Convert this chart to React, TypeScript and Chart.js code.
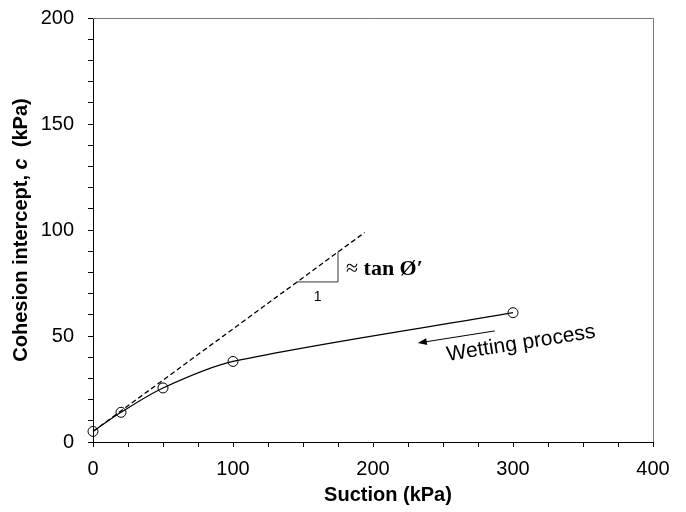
import React, { useEffect, useRef } from "react";
import { Chart, registerables } from "chart.js";

Chart.register(...registerables);

// Measured data
const suction = [0, 20, 50, 100, 300];
const cohesion = [5, 14, 25.5, 38, 61];

// Dashed tangent line (slope ≈ tan φ')
const tangentX = [0, 194];
const tangentY = [5, 98.8];

// Slope triangle
const triangleX = [145.5, 175, 175];
const triangleY = [75.5, 75.5, 89.8];

// Axis tick settings
const xMajor = 100;
const yMajor = 50;

const FONT = "'Liberation Sans', Arial, sans-serif";
const SERIF = "'Liberation Serif', 'DejaVu Serif', serif";

const annotations = {
  id: "annotations",
  afterDraw(chart: any) {
    const { ctx, chartArea: a, scales } = chart;
    const sx = scales.x;
    const sy = scales.y;
    const px = (v: number) => sx.getPixelForValue(v);
    const py = (v: number) => sy.getPixelForValue(v);
    ctx.save();

    // top / right frame
    ctx.strokeStyle = "#7a7a7a";
    ctx.lineWidth = 1;
    ctx.beginPath();
    ctx.moveTo(Math.round(a.left), Math.round(a.top) + 0.5);
    ctx.lineTo(Math.round(a.right) + 0.5, Math.round(a.top) + 0.5);
    ctx.lineTo(Math.round(a.right) + 0.5, Math.round(a.bottom));
    ctx.stroke();

    // Arrow for wetting process
    const ax1 = px(287), ay1 = py(52.4);
    const ax2 = px(232), ay2 = py(46.7);
    ctx.strokeStyle = "#000";
    ctx.fillStyle = "#000";
    ctx.lineWidth = 1;
    ctx.beginPath();
    ctx.moveTo(ax1, ay1);
    ctx.lineTo(ax2 + 6, ay2 - 0.9);
    ctx.stroke();
    const ang = Math.atan2(ay2 - ay1, ax2 - ax1);
    const L = 9, W = 3.5;
    ctx.beginPath();
    ctx.moveTo(ax2, ay2);
    ctx.lineTo(ax2 - L * Math.cos(ang) + W * Math.sin(ang), ay2 - L * Math.sin(ang) - W * Math.cos(ang));
    ctx.lineTo(ax2 - L * Math.cos(ang) - W * Math.sin(ang), ay2 - L * Math.sin(ang) + W * Math.cos(ang));
    ctx.closePath();
    ctx.fill();

    // Wetting process text
    ctx.save();
    ctx.translate(px(305.7), py(46.5));
    ctx.rotate((-9 * Math.PI) / 180);
    ctx.font = `21px ${FONT}`;
    ctx.textAlign = "center";
    ctx.textBaseline = "middle";
    ctx.fillText("Wetting process", 0, 0);
    ctx.restore();

    // "1" label
    ctx.font = `14px ${FONT}`;
    ctx.textAlign = "center";
    ctx.textBaseline = "middle";
    ctx.fillText("1", px(160.5), py(68.4));

    // ≈ tan Ø′
    ctx.textAlign = "left";
    ctx.textBaseline = "alphabetic";
    let tx = px(180.7);
    const ty = py(78.8);
    ctx.font = `22px ${SERIF}`;
    ctx.fillText("≈ ", tx, ty);
    tx += ctx.measureText("≈ ").width;
    ctx.font = `bold 22px ${SERIF}`;
    ctx.fillText("tan Ø′", tx, ty);

    // Axis titles
    ctx.fillStyle = "#000";
    ctx.font = `bold 20px ${FONT}`;
    ctx.textAlign = "center";
    ctx.textBaseline = "middle";
    ctx.fillText("Suction (kPa)", 388, 495);

    ctx.save();
    ctx.translate(21, (a.top + a.bottom) / 2);
    ctx.rotate(-Math.PI / 2);
    const p1 = "Cohesion intercept, ";
    const p2 = "c";
    const p3 = "  (kPa)";
    ctx.font = `bold 20px ${FONT}`;
    const w1 = ctx.measureText(p1).width;
    const w3 = ctx.measureText(p3).width;
    ctx.font = `italic bold 20px ${FONT}`;
    const w2 = ctx.measureText(p2).width;
    let cx = -(w1 + w2 + w3) / 2;
    ctx.textAlign = "left";
    ctx.font = `bold 20px ${FONT}`;
    ctx.fillText(p1, cx, 0);
    cx += w1;
    ctx.font = `italic bold 20px ${FONT}`;
    ctx.fillText(p2, cx, 0);
    cx += w2;
    ctx.font = `bold 20px ${FONT}`;
    ctx.fillText(p3, cx, 0);
    ctx.restore();

    ctx.restore();
  },
};

export default function App() {
  const ref = useRef<HTMLCanvasElement>(null);
  useEffect(() => {
    if (!ref.current) return;
    const chart = new Chart(ref.current, {
      type: "scatter",
      data: {
        datasets: [
          {
            data: tangentX.map((s, i) => ({ x: s, y: tangentY[i] })),
            showLine: true,
            borderColor: "#000",
            borderWidth: 1.3,
            borderDash: [5, 3],
            pointRadius: 0,
            order: 3,
          } as any,
          {
            data: triangleX.map((s, i) => ({ x: s, y: triangleY[i] })),
            showLine: true,
            borderColor: "#333",
            borderWidth: 1,
            pointRadius: 0,
            order: 2,
          } as any,
          {
            data: suction.map((s, i) => ({ x: s, y: cohesion[i] })),
            showLine: true,
            clip: false,
            borderColor: "#000",
            borderWidth: 1.2,
            tension: 0.3,
            pointRadius: 5,
            pointBorderColor: "#000",
            pointBorderWidth: 1,
            pointBackgroundColor: "rgba(0,0,0,0)",
            order: 1,
          } as any,
        ],
      },
      options: {
        responsive: false,
        animation: false,
        layout: { padding: { left: 0, top: 18, right: 33, bottom: 0 } },
        plugins: { legend: { display: false }, tooltip: { enabled: false } },
        scales: {
          x: {
            type: "linear",
            min: 0,
            max: 400,
            afterFit: (s: any) => {
              s.height = 70;
              s.paddingLeft = 0;
              s.paddingRight = 0;
              s.paddingTop = 0;
              s.paddingBottom = 0;
            },
            ticks: {
              stepSize: 25,
              autoSkip: false,
              maxRotation: 0,
              padding: 10,
              color: "#000",
              font: { family: FONT, size: 20 },
              callback: (v: any) => (Number(v) % xMajor === 0 ? String(v) : ""),
            },
            grid: { drawOnChartArea: false, drawTicks: true, tickLength: 5, color: "#000" },
            border: { display: true, color: "#000", width: 1 },
          },
          y: {
            type: "linear",
            min: 0,
            max: 200,
            afterFit: (s: any) => {
              s.width = 93;
              s.paddingLeft = 0;
              s.paddingRight = 0;
              s.paddingTop = 0;
              s.paddingBottom = 0;
            },
            ticks: {
              stepSize: 10,
              autoSkip: false,
              padding: 14,
              color: "#000",
              font: { family: FONT, size: 20 },
              callback: (v: any) => (Number(v) % yMajor === 0 ? String(v) : ""),
            },
            grid: { drawOnChartArea: false, drawTicks: true, tickLength: 5, color: "#000" },
            border: { display: true, color: "#000", width: 1 },
          },
        },
      } as any,
      plugins: [annotations],
    });
    return () => chart.destroy();
  }, []);
  return (
    <div style={{ position: "fixed", left: 0, top: 0, width: 686, height: 512, background: "#fff" }}>
      <canvas ref={ref} width={686} height={512} style={{ display: "block" }} />
    </div>
  );
}
